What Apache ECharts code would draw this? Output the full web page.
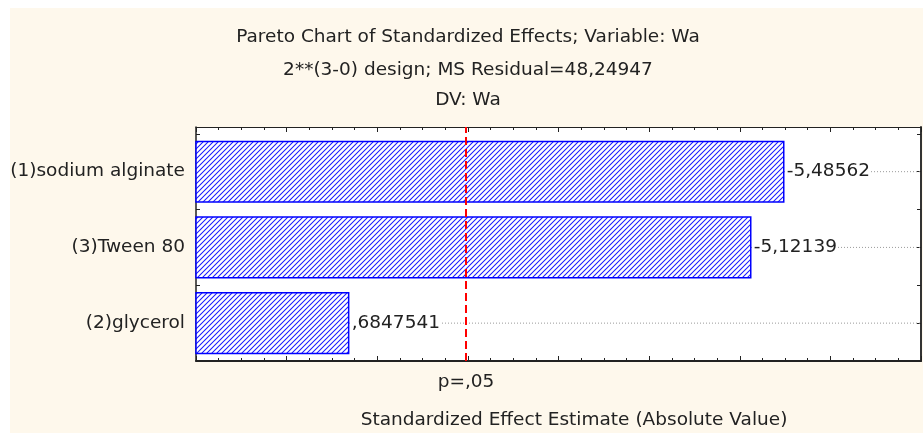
<!DOCTYPE html>
<html>
<head>
<meta charset="utf-8">
<script src="https://cdn.jsdelivr.net/npm/echarts@6.0.0/dist/echarts.min.js"></script>
<style>
  html, body { margin: 0; padding: 0; background: #ffffff; }
  #panel { position: absolute; left: 10px; top: 8px; width: 913px; height: 425px; background: #fef8ec; }
  #chart { position: absolute; left: 0; top: 0; width: 923px; height: 433px; }
</style>
</head>
<body>
<div id="panel"></div>
<div id="chart"></div>
<script>
// Effects listed from top to bottom, with their signed standardized estimates
const categories = ['(1)sodium alginate', '(3)Tween 80', '(2)glycerol'];
const effects = [-5.48562, -5.12139, 0.6847541];
// Critical value of the test at p = .05
const criticalValue = 1.98;
const criticalLabel = 'p=,05';
// Horizontal axis range and tick step (no tick labels are shown)
const xRange = [-1, 7];
const xStep = 1;
const titleLines = [
  'Pareto Chart of Standardized Effects; Variable: Wa',
  '2**(3-0) design; MS Residual=48,24947',
  'DV: Wa'
];
const xAxisTitle = 'Standardized Effect Estimate (Absolute Value)';

const FONT = '"DejaVu Sans", sans-serif';
const FS = 18.5;
const TEXT = '#222222';

// Statistica-style number text: decimal comma, no leading zero
function fmt(v) {
  let s = String(v).replace('.', ',');
  return s.replace(/^(-?)0,/, '$1,');
}

// Position of category i on the vertical value scale (first category on top)
function catPos(i) { return categories.length - i - 0.5; }

// Diagonal hatch tile for the bars
function hatchTile() {
  const n = 5;
  const c = document.createElement('canvas');
  c.width = n; c.height = n;
  const g = c.getContext('2d');
  g.fillStyle = '#ffffff';
  g.fillRect(0, 0, n, n);
  g.strokeStyle = '#1a1aff';
  g.lineWidth = 1.05;
  g.beginPath();
  g.moveTo(-1, n + 1); g.lineTo(n + 1, -1);
  g.moveTo(-1, 1); g.lineTo(1, -1);
  g.moveTo(n - 1, n + 1); g.lineTo(n + 1, n - 1);
  g.stroke();
  return c;
}
const hatch = { image: hatchTile(), repeat: 'repeat' };

const barData = effects.map((v, i) => [Math.abs(v), catPos(i), v]);
const gridData = categories.map((c, i) => [xRange[0], catPos(i)]);

const chart = echarts.init(document.getElementById('chart'), null, { renderer: 'canvas' });

const xAxisBase = {
  type: 'value',
  min: xRange[0],
  max: xRange[1],
  interval: xStep,
  axisLabel: { show: false },
  splitLine: { show: false },
  axisTick: { show: true, inside: true, length: 5, lineStyle: { color: '#222', width: 1 } },
  minorTick: { show: true, splitNumber: 4, length: 3, lineStyle: { color: '#222', width: 1 } },
  minorSplitLine: { show: false }
};
const yAxisBase = {
  type: 'value',
  min: 0,
  max: 3.09,
  interval: 0.5,
  splitLine: { show: false },
  axisTick: { show: true, inside: true, length: 4, lineStyle: { color: '#222', width: 1 } }
};

chart.setOption({
  backgroundColor: 'transparent',
  animation: false,
  textStyle: { fontFamily: FONT },
  grid: {
    left: 196, right: 2, top: 127, bottom: 72,
    show: true, backgroundColor: '#ffffff', borderWidth: 0
  },
  xAxis: [
    Object.assign({}, xAxisBase, {
      position: 'bottom',
      axisLine: { show: true, onZero: false, lineStyle: { color: '#222', width: 2 } }
    }),
    Object.assign({}, xAxisBase, {
      position: 'top',
      axisLine: { show: true, onZero: false, lineStyle: { color: '#222', width: 1 } }
    })
  ],
  yAxis: [
    Object.assign({}, yAxisBase, {
      position: 'left',
      axisLine: { show: true, onZero: false, lineStyle: { color: '#222', width: 1.5 } },
      axisLabel: {
        show: true, margin: 11, color: TEXT, fontSize: FS, fontFamily: FONT,
        formatter: function (val) {
          const i = categories.length - 0.5 - val;
          return (Number.isInteger(i) && i >= 0 && i < categories.length) ? categories[i] : '';
        }
      }
    }),
    Object.assign({}, yAxisBase, {
      position: 'right',
      axisLine: { show: true, onZero: false, lineStyle: { color: '#333', width: 2 } },
      axisLabel: { show: false }
    })
  ],
  graphic: [
    ...titleLines.map((t, k) => ({
      type: 'text', x: 468, y: [37, 70, 100][k], silent: true,
      style: {
        text: t, fill: TEXT, font: FS + 'px ' + FONT,
        align: 'center', verticalAlign: 'middle',
        textAlign: 'center', textVerticalAlign: 'middle'
      }
    })),
    {
      type: 'text', x: 574, y: 420, silent: true,
      style: {
        text: xAxisTitle, fill: TEXT, font: FS + 'px ' + FONT,
        align: 'center', verticalAlign: 'middle',
        textAlign: 'center', textVerticalAlign: 'middle'
      }
    }
  ],
  series: [
    {
      // dotted guide lines through each effect row
      type: 'custom',
      z: 1,
      silent: true,
      data: gridData,
      encode: { x: 0, y: 1 },
      renderItem: function (params, api) {
        const y = api.value(1);
        const a = api.coord([xRange[0], y]);
        const b = api.coord([xRange[1], y]);
        return {
          type: 'line',
          shape: { x1: a[0], y1: a[1], x2: b[0], y2: b[1] },
          style: { stroke: '#9a9a9a', lineWidth: 1, lineDash: [1, 2] }
        };
      }
    },
    {
      // hatched effect bars, drawn from the left edge of the scale
      type: 'custom',
      z: 2,
      silent: true,
      data: barData,
      encode: { x: 0, y: 1 },
      renderItem: function (params, api) {
        const v = api.value(0);
        const y = api.value(1);
        const signed = barData[params.dataIndex][2];
        const start = api.coord([xRange[0], y]);
        const end = api.coord([v, y]);
        const h = api.size([0, 0.8])[1];
        return {
          type: 'group',
          children: [
            {
              type: 'rect',
              shape: { x: start[0], y: start[1] - h / 2, width: end[0] - start[0], height: h },
              style: { fill: hatch, stroke: '#0000ff', lineWidth: 1.5 }
            },
            {
              type: 'text',
              x: end[0] + 2,
              y: end[1],
              style: {
                text: fmt(signed), fill: TEXT, font: FS + 'px ' + FONT,
                align: 'left', verticalAlign: 'middle',
                textAlign: 'left', textVerticalAlign: 'middle',
                backgroundColor: '#ffffff', padding: [0, 1]
              }
            }
          ]
        };
      }
    },
    {
      // significance threshold
      type: 'line',
      z: 5,
      data: [],
      markLine: {
        silent: true,
        symbol: 'none',
        lineStyle: { color: '#ff0000', type: [8, 4], width: 2 },
        label: {
          show: true, position: 'start', distance: 12,
          formatter: criticalLabel, color: TEXT, fontSize: FS, fontFamily: FONT
        },
        data: [{ xAxis: criticalValue }]
      }
    }
  ]
});
</script>
</body>
</html>
